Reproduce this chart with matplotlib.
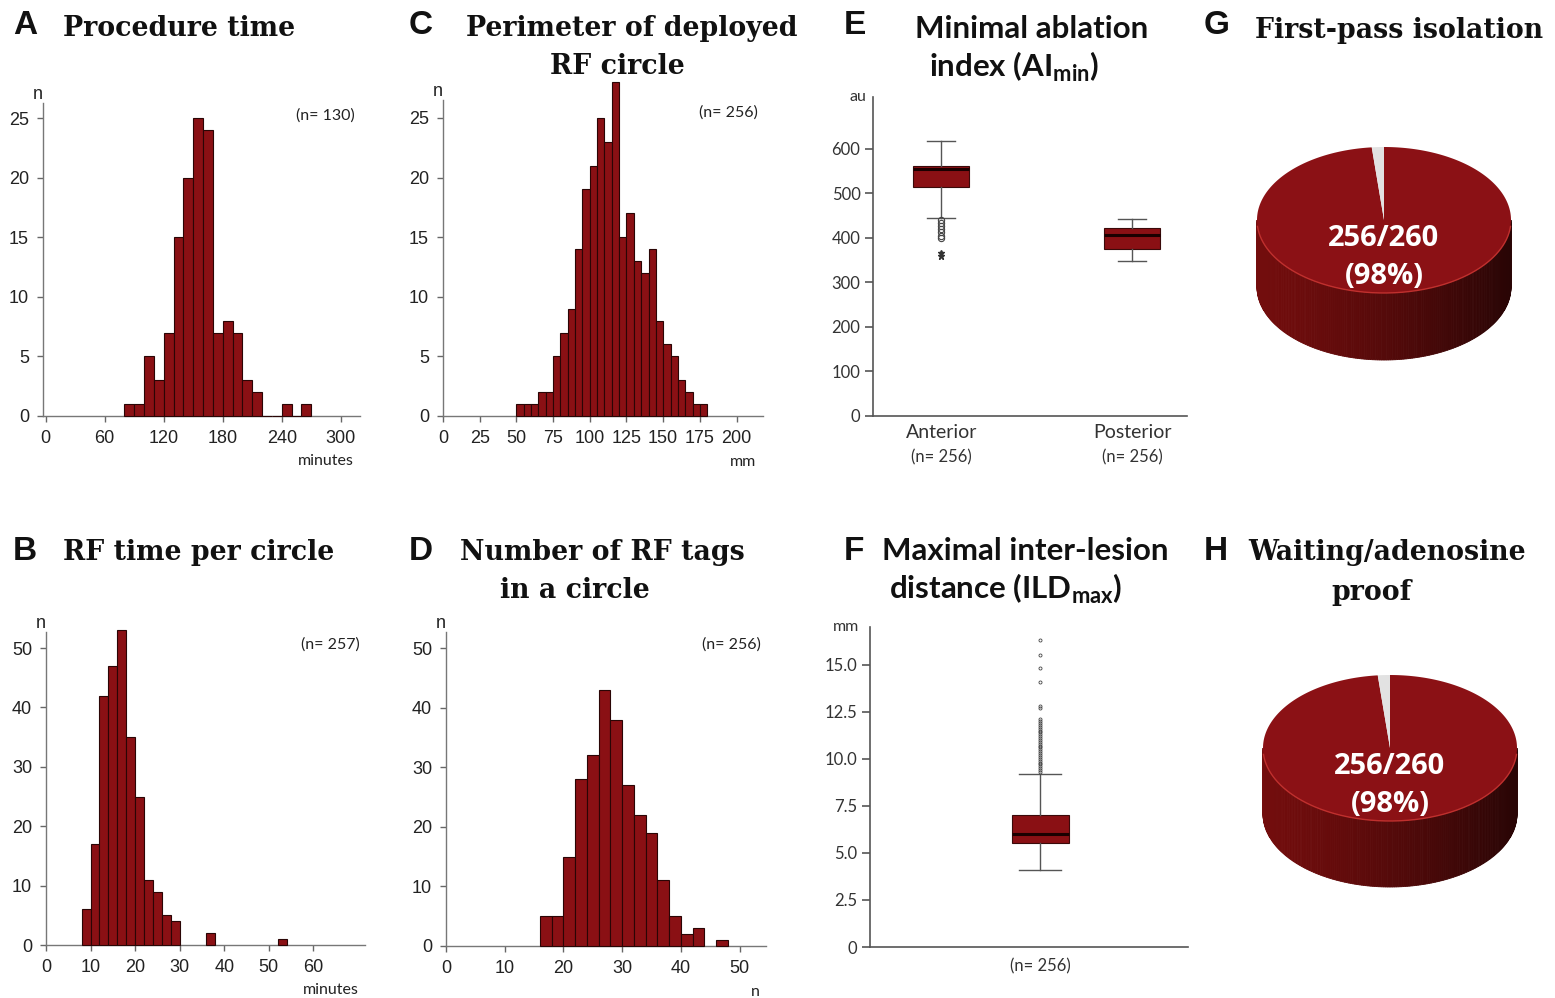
import numpy as np
import matplotlib
matplotlib.use("Agg")
import matplotlib.pyplot as plt
from matplotlib.patches import Polygon
from matplotlib.transforms import blended_transform_factory

# ---- data ----
# A: procedure time (minutes), 10-min bins starting at 80
proc_edges = [80, 90, 100, 110, 120, 130, 140, 150, 160, 170, 180, 190, 200, 210, 220, 230, 240, 250, 260]
proc_counts = [1, 1, 5, 3, 7, 15, 20, 25, 24, 7, 8, 7, 3, 2, 0, 0, 1, 0, 1]

# B: RF time per circle (minutes), 2-min bins starting at 8
rf_edges = [8, 10, 12, 14, 16, 18, 20, 22, 24, 26, 28, 36, 52]
rf_counts = [6, 17, 42, 47, 53, 35, 25, 11, 9, 5, 4, 2, 1]

# C: perimeter of RF circle (mm), 5-mm bins starting at 50
per_edges = [50, 55, 60, 65, 70, 75, 80, 85, 90, 95, 100, 105, 110, 115, 120, 125,
             130, 135, 140, 145, 150, 155, 160, 165, 170, 175]
per_counts = [1, 1, 1, 2, 2, 5, 7, 9, 14, 19, 21, 25, 23, 28, 15, 17,
              13, 12, 14, 8, 6, 5, 3, 2, 1, 1]

# D: number of RF tags, bins of 2 starting at 16
tag_edges = [16, 18, 20, 22, 24, 26, 28, 30, 32, 34, 36, 38, 40, 42, 46]
tag_counts = [5, 5, 15, 28, 32, 43, 38, 27, 22, 19, 11, 5, 2, 3, 1]

# E: minimal ablation index boxplots
ai_labels = ["Anterior", "Posterior"]
ai_n = [256, 256]
ai_whislo = [445, 348]
ai_q1 = [515, 375]
ai_med = [555, 407]
ai_q3 = [562, 423]
ai_whishi = [618, 442]
ai_out_circles = [440, 433, 426, 419, 412, 405, 399]
ai_out_stars = [366, 358]

# F: maximal inter-lesion distance
ild_n = 256
ild_stats = dict(whislo=4.1, q1=5.5, med=6.0, q3=7.0, whishi=9.2)
ild_outliers = [9.3, 9.4, 9.5, 9.6, 9.7, 9.8, 9.9, 10.0, 10.1, 10.2, 10.3, 10.4, 10.5, 10.6,
                10.7, 10.8, 10.9, 11.0, 11.1, 11.2, 11.3, 11.4, 11.5, 11.6, 11.7, 11.8,
                11.9, 12.0, 12.1, 12.7, 12.8, 14.1, 14.8, 15.5, 16.3]

# G, H: pies
first_pass = [256, 4]
adenosine = [256, 4]

RED = "#8a1014"
W, H = 1555, 998
fig = plt.figure(figsize=(W / 100, H / 100), dpi=100)

SANS = "Liberation Sans"
CAL = "Lato"


def add_ax(x0, x1, ytop, ybot):
    return fig.add_axes([x0 / W, 1 - ybot / H, (x1 - x0) / W, (ybot - ytop) / H])


def ftext(x, y, s, **kw):
    fig.text(x / W, 1 - y / H, s, **kw)


def hist_panel(ax, edges, counts, xlim, ylim, xticks, yticks, ntext, unit):
    widths = np.diff(list(edges) + [edges[-1] + (edges[1] - edges[0])])
    widths = np.minimum(widths, edges[1] - edges[0])
    ax.bar(edges, counts, width=widths, align="edge", color=RED,
           edgecolor="#2a0505", linewidth=0.8, clip_on=False, zorder=3)
    ax.set_xlim(*xlim)
    ax.set_ylim(*ylim)
    ax.set_xticks(xticks)
    ax.set_yticks(yticks)
    for s in ["top", "right"]:
        ax.spines[s].set_visible(False)
    for s in ["left", "bottom"]:
        ax.spines[s].set_color("#777777")
        ax.spines[s].set_linewidth(1.0)
    ax.tick_params(direction="out", length=4, width=1, color="#666666",
                   labelsize=13, labelcolor="#222222", pad=6)
    for lab in ax.get_xticklabels() + ax.get_yticklabels():
        lab.set_fontfamily(SANS)
    ax.text(0.0, 1.0, "n", transform=ax.transAxes, ha="right", va="bottom",
            fontsize=13, family=SANS, color="#222222")
    ax.text(0.985, 0.96, ntext, transform=ax.transAxes, ha="right", va="center",
            fontsize=11.5, family=CAL, color="#222222")
    ax.text(0.98, -0.145, unit, transform=ax.transAxes, ha="right", va="center",
            fontsize=11.5, family=CAL, color="#222222")


# ---- histograms ----
axA = add_ax(43, 360, 103, 416)
hist_panel(axA, proc_edges, proc_counts, (-2.7, 319.6), (0, 26.3),
           [0, 60, 120, 180, 240, 300], [0, 5, 10, 15, 20, 25], "(n= 130)", "minutes")

axC = add_ax(443, 763, 100, 416)
hist_panel(axC, per_edges, per_counts, (0, 218), (0, 26.5),
           [0, 25, 50, 75, 100, 125, 150, 175, 200], [0, 5, 10, 15, 20, 25], "(n= 256)", "mm")

axB = add_ax(46, 365, 632, 945)
hist_panel(axB, rf_edges, rf_counts, (0, 71.6), (0, 52.7),
           [0, 10, 20, 30, 40, 50, 60], [0, 10, 20, 30, 40, 50], "(n= 257)", "minutes")

axD = add_ax(446, 766, 632, 946)
hist_panel(axD, tag_edges, tag_counts, (0, 54.5), (0, 52.7),
           [0, 10, 20, 30, 40, 50], [0, 10, 20, 30, 40, 50], "(n= 256)", "n")


# ---- boxplots ----
def box_style(ax):
    for s in ["top", "right"]:
        ax.spines[s].set_visible(False)
    for s in ["left", "bottom"]:
        ax.spines[s].set_color("#555555")
        ax.spines[s].set_linewidth(1.2)
    ax.tick_params(axis="y", direction="out", length=6, width=1.2, color="#555555",
                   labelsize=12, labelcolor="#333333", pad=3)
    ax.tick_params(axis="x", length=0, labelsize=14, labelcolor="#333333", pad=6)
    for lab in ax.get_xticklabels() + ax.get_yticklabels():
        lab.set_fontfamily(CAL)


boxprops = dict(facecolor=RED, edgecolor="#3a0a0a", linewidth=0.8)
medianprops = dict(color="#1a0000", linewidth=2.2)
whiskerprops = dict(color="#555555", linewidth=1.0)
capprops = dict(color="#555555", linewidth=1.0)

axE = add_ax(873, 1187, 97, 416)
statsE = []
for i in range(2):
    statsE.append(dict(whislo=ai_whislo[i], q1=ai_q1[i], med=ai_med[i], q3=ai_q3[i],
                       whishi=ai_whishi[i], fliers=[], label=ai_labels[i]))
posE = [0.217, 0.825]
axE.bxp(statsE, positions=posE, widths=0.18, patch_artist=True, showfliers=False,
        boxprops=boxprops, medianprops=medianprops, whiskerprops=whiskerprops,
        capprops=capprops, capwidths=0.09)
axE.plot([posE[0]] * len(ai_out_circles), ai_out_circles, "o", ms=4.5, mfc="none",
         mec="#444444", mew=0.8, zorder=4)
axE.plot([posE[0]] * len(ai_out_stars), ai_out_stars, "*", ms=5, color="#333333", zorder=4)
axE.set_xlim(0, 1)
axE.set_ylim(0, 716)
axE.set_yticks([0, 100, 200, 300, 400, 500, 600])
axE.set_xticks(posE)
axE.set_xticklabels(ai_labels)
box_style(axE)
trE = blended_transform_factory(axE.transData, axE.transAxes)
for p, n in zip(posE, ai_n):
    axE.text(p, -0.13, f"(n= {n})", transform=trE, ha="center", va="center",
             fontsize=12, family=CAL, color="#333333")
axE.text(-0.02, 1.0, "au", transform=axE.transAxes, ha="right", va="center",
         fontsize=11.5, family=CAL, color="#333333")

axF = add_ax(870, 1188, 627, 947)
posF = 0.535
axF.bxp([dict(ild_stats, fliers=[], label=f"(n= {ild_n})")], positions=[posF], widths=0.18,
        patch_artist=True, showfliers=False, boxprops=boxprops, medianprops=medianprops,
        whiskerprops=whiskerprops, capprops=capprops, capwidths=0.13)
axF.plot([posF] * len(ild_outliers), ild_outliers, "o", ms=2.2, mfc="none",
         mec="#444444", mew=0.6, zorder=4)
axF.set_xlim(0, 1)
axF.set_ylim(0, 17.0)
axF.set_yticks([0, 2.5, 5.0, 7.5, 10.0, 12.5, 15.0])
axF.set_yticklabels(["0", "2.5", "5.0", "7.5", "10.0", "12.5", "15.0"])
box_style(axF)
axF.tick_params(axis="x", labelsize=12, pad=8)
axF.text(-0.035, 1.0, "mm", transform=axF.transAxes, ha="right", va="center",
         fontsize=11.5, family=CAL, color="#333333")


# ---- 3D-looking pies ----
def pie3d(ax, parts, cx, cy, a, b, d):
    total = sum(parts)
    gap = 360.0 * parts[1] / total
    # side band (front half), shaded darker to the right
    ts = np.linspace(180, 360, 181)
    for t0, t1 in zip(ts[:-1], ts[1:]):
        r0, r1 = np.radians([t0, t1])
        xs = [cx + a * np.cos(r0), cx + a * np.cos(r1), cx + a * np.cos(r1), cx + a * np.cos(r0)]
        ys = [cy - b * np.sin(r0), cy - b * np.sin(r1), cy - b * np.sin(r1) + d, cy - b * np.sin(r0) + d]
        f = (np.cos(r0) + 1) / 2  # 0 left, 1 right
        c0 = np.array([0.45, 0.05, 0.05])
        c1 = np.array([0.16, 0.02, 0.02])
        col = c0 + (c1 - c0) * f ** 1.3
        ax.add_patch(Polygon(list(zip(xs, ys)), closed=True, facecolor=col,
                             edgecolor=col, linewidth=0.6))
    # top face: red slice
    tt = np.radians(np.linspace(90 + gap, 450, 400))
    pts = [(cx, cy)] + list(zip(cx + a * np.cos(tt), cy - b * np.sin(tt)))
    ax.add_patch(Polygon(pts, closed=True, facecolor="#8b1115", edgecolor="none"))
    # top face: grey slice
    tg = np.radians(np.linspace(90, 90 + gap, 20))
    pts = [(cx, cy)] + list(zip(cx + a * np.cos(tg), cy - b * np.sin(tg)))
    ax.add_patch(Polygon(pts, closed=True, facecolor="#e2e2e2", edgecolor="none"))
    # light rim on the front edge
    tr = np.radians(np.linspace(185, 355, 200))
    ax.plot(cx + a * np.cos(tr), cy - b * np.sin(tr), color="#c0302e", lw=1.0)
    pct = round(100 * parts[0] / total)
    ax.text(cx, cy + 19, f"{parts[0]}/{total}", ha="center", va="center", color="white",
            fontsize=21, family="Open Sans", fontweight="bold")
    ax.text(cx, cy + 57, f"({pct}%)", ha="center", va="center", color="white",
            fontsize=21, family="Open Sans", fontweight="bold")


axG = add_ax(1230, 1545, 130, 380)
axG.set_xlim(1230, 1545)
axG.set_ylim(380, 130)
axG.axis("off")
pie3d(axG, first_pass, 1384, 220, 127, 73, 67)

axH = add_ax(1230, 1545, 660, 910)
axH.set_xlim(1230, 1545)
axH.set_ylim(910, 660)
axH.axis("off")
pie3d(axH, adenosine, 1390, 748, 127, 73, 66)

# ---- panel titles ----
LET = dict(fontsize=24, family=SANS, fontweight="bold", va="center", color="#111111")
SER = dict(fontsize=19.3, family="DejaVu Serif", fontweight="bold", va="center", color="#111111")
SAN = dict(fontsize=22.5, family=CAL, fontweight="bold", va="center", color="#111111")

ftext(13, 26, "A", **LET)
ftext(63, 29, "Procedure time", **SER)
ftext(409, 26, "C", **LET)
ftext(466, 29, "Perimeter of deployed", **SER)
ftext(617, 66, "RF circle", ha="center", **SER)
ftext(844, 26, "E", **LET)
ftext(915, 29, "Minimal ablation", **SAN)
ftext(1014, 67, r"index (AI$_{\mathregular{min}}$)", ha="center", **SAN)
ftext(1204, 26, "G", **LET)
ftext(1255, 31, "First-pass isolation", **SER)

ftext(13, 551, "B", **LET)
ftext(63, 553, "RF time per circle", **SER)
ftext(409, 551, "D", **LET)
ftext(460, 553, "Number of RF tags", **SER)
ftext(575, 591, "in a circle", ha="center", **SER)
ftext(844, 551, "F", **LET)
ftext(882, 551, "Maximal inter-lesion", **SAN)
ftext(1006, 589, r"distance (ILD$_{\mathregular{max}}$)", ha="center", **SAN)
ftext(1204, 551, "H", **LET)
ftext(1248, 553, "Waiting/adenosine", **SER)
ftext(1372, 592, "proof", ha="center", **SER)

fig.savefig("out.png", dpi=100)
